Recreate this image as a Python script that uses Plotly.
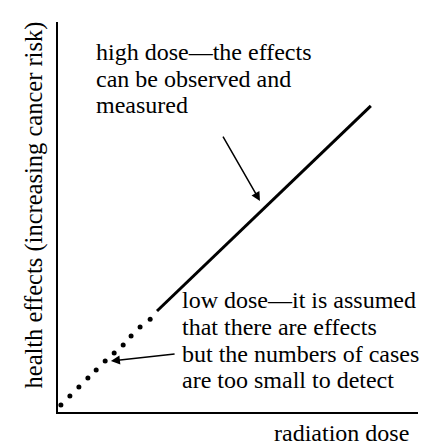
import plotly.graph_objects as go

# Data (dose 0-100, effect 0-100)
dot_dose = [0.8, 3.3, 5.8, 8.3, 10.6, 13.1, 15.6, 18.1, 20.3, 22.8, 25.6]
dot_effect = [1.8, 4.1, 6.4, 8.7, 10.8, 13.1, 15.1, 17.2, 19.5, 21.8, 23.8]
line_dose = [27.5, 86.9]
line_effect = [25.9, 78.5]

high_lines = ["high dose—the effects", "can be observed and", "measured"]
high_y = [0.922, 0.854, 0.786]
low_lines = ["low dose—it is assumed", "that there are effects",
             "but the numbers of cases", "are too small to detect"]
low_y = [0.287, 0.218, 0.149, 0.082]
x_title = "radiation dose"
y_title = "health effects (increasing cancer risk)"

FONT = "Liberation Serif, Times New Roman, serif"
fs = 24

fig = go.Figure()
fig.add_trace(go.Scatter(x=dot_dose, y=dot_effect, mode="markers",
                         marker=dict(color="black", size=5), hoverinfo="skip"))
fig.add_trace(go.Scatter(x=line_dose, y=line_effect, mode="lines",
                         line=dict(color="black", width=3), hoverinfo="skip"))

fig.add_annotation(x=56.1, y=54.1, ax=45.6, ay=71.0, xref="x", yref="y", axref="x", ayref="y",
                   showarrow=True, arrowhead=2, arrowsize=1.2, arrowwidth=1.5, arrowcolor="black", text="")
fig.add_annotation(x=14.7, y=13.1, ax=32.8, ay=14.9, xref="x", yref="y", axref="x", ayref="y",
                   showarrow=True, arrowhead=2, arrowsize=1.2, arrowwidth=1.5, arrowcolor="black", text="")

for txt, yy in zip(high_lines, high_y):
    fig.add_annotation(x=0.131, y=yy, xref="paper", yref="paper", text=txt, showarrow=False,
                       xanchor="left", yanchor="middle", align="left", borderpad=0, xshift=-10,
                       font=dict(family=FONT, size=fs, color="black"))
for txt, yy in zip(low_lines, low_y):
    fig.add_annotation(x=0.369, y=yy, xref="paper", yref="paper", text=txt, showarrow=False,
                       xanchor="left", yanchor="middle", align="left", borderpad=0, xshift=-10,
                       font=dict(family=FONT, size=fs, color="black"))

fig.add_annotation(x=1.0, y=0, xref="paper", yref="paper", text=x_title, showarrow=False,
                   xanchor="right", yanchor="middle", yshift=-21, xshift=-8, borderpad=0,
                   font=dict(family=FONT, size=fs, color="black"))
fig.add_annotation(x=0, y=0.5295, xref="paper", yref="paper", text=y_title, showarrow=False,
                   textangle=-90, xanchor="center", yanchor="middle", xshift=-24, borderpad=0,
                   font=dict(family=FONT, size=24.5, color="black"))

fig.update_xaxes(range=[0, 100], showgrid=False, zeroline=False, showticklabels=False,
                 ticks="", showline=True, linecolor="black", linewidth=2)
fig.update_yaxes(range=[0, 100], showgrid=False, zeroline=False, showticklabels=False,
                 ticks="", showline=True, linecolor="black", linewidth=2)
fig.update_layout(width=430, height=448, margin=dict(l=50, r=20, t=14, b=44),
                  paper_bgcolor="white", plot_bgcolor="white", showlegend=False)

fig.write_html("out.html")
